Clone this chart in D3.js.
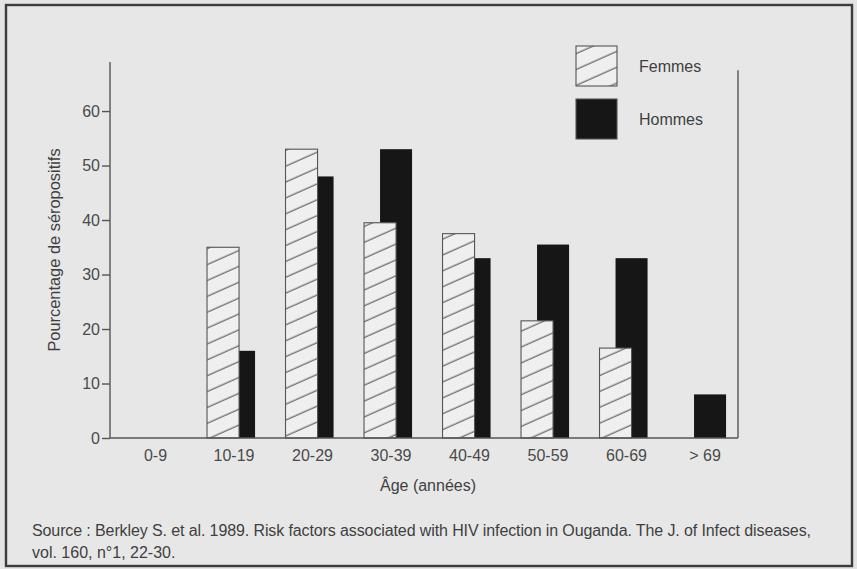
<!doctype html>
<html>
  <head>
    <meta charset="utf-8" />
    <title>Séropositivité par âge</title>
    <style>
      body { margin: 0; background: #e4e4e4; }
      svg { display: block; }
      text { font-family: "Liberation Sans", Arial, Helvetica, sans-serif; fill: #3f3f3f; }
      .axis path, .axis line { stroke: #555; stroke-width: 1.4px; }
      .axis text { font-size: 16px; fill: #4a4a4a; }
    </style>
  </head>
  <body>
    <div id="chart"></div>
    <script src="https://cdn.jsdelivr.net/npm/d3@7"></script>
    <script>
      var categories = ["0-9", "10-19", "20-29", "30-39", "40-49", "50-59", "60-69", "> 69"];
      var femmes = [0, 35, 53, 39.5, 37.5, 21.5, 16.5, 0];
      var hommes = [0, 16, 48, 53, 33, 35.5, 33, 8];
      var yTicks = [0, 10, 20, 30, 40, 50, 60];
      var seriesNames = ["Femmes", "Hommes"];
      var sourceLines = [
        "Source : Berkley S. et al. 1989. Risk factors associated with HIV infection in Ouganda. The J. of Infect diseases,",
        "vol. 160, n\u00b01, 22-30."
      ];

      var width = 857, height = 569;

      var svg = d3.select("#chart").append("svg")
                  .attr("width", width)
                  .attr("height", height);

      // hatch used for the women's bars
      var defs = svg.append("defs");
      defs.append("pattern")
          .attr("id", "hatch")
          .attr("patternUnits", "userSpaceOnUse")
          .attr("width", 10)
          .attr("height", 14.5)
          .attr("patternTransform", "rotate(-24)")
        .call(function(p) {
          p.append("rect").attr("width", 10).attr("height", 14.5).attr("fill", "#efefef");
          p.append("line")
           .attr("x1", 0).attr("x2", 10).attr("y1", 7).attr("y2", 7)
           .attr("stroke", "#555").attr("stroke-width", 1.1);
        });

      // frame
      svg.append("rect")
         .attr("x", 6).attr("y", 5)
         .attr("width", 846).attr("height", 561)
         .attr("fill", "#e7e7e7")
         .attr("stroke", "#3c3c3c")
         .attr("stroke-width", 2.4);

      var x = d3.scaleBand()
                .domain(categories)
                .range([110, 738])
                .padding(0);

      var y = d3.scaleLinear()
                .domain([0, 69])
                .range([438, 62]);

      var barW = x.bandwidth() * 0.408;
      var offset = { Femmes: x.bandwidth() * 0.236, Hommes: x.bandwidth() * 0.236 + barW / 2 };

      var g = svg.append("g");

      // men first, women drawn over them
      g.selectAll(".bar-h")
       .data(categories.map(function(c, i) { return { cat: c, v: hommes[i] }; }))
       .enter().append("rect")
       .attr("class", "bar-h")
       .attr("x", function(d) { return x(d.cat) + offset.Hommes; })
       .attr("y", function(d) { return y(d.v); })
       .attr("width", barW)
       .attr("height", function(d) { return y(0) - y(d.v); })
       .attr("fill", "#161616");

      g.selectAll(".bar-f")
       .data(categories.map(function(c, i) { return { cat: c, v: femmes[i] }; }).filter(function(d) { return d.v > 0; }))
       .enter().append("rect")
       .attr("class", "bar-f")
       .attr("x", function(d) { return x(d.cat) + offset.Femmes; })
       .attr("y", function(d) { return y(d.v); })
       .attr("width", barW)
       .attr("height", function(d) { return y(0) - y(d.v); })
       .attr("fill", "url(#hatch)")
       .attr("stroke", "#555")
       .attr("stroke-width", 1.1);

      // y axis
      var yAxis = svg.append("g")
         .attr("class", "axis")
         .attr("transform", "translate(110,0)")
         .call(d3.axisLeft(y).tickValues(yTicks).tickSize(8).tickPadding(2).tickSizeOuter(0));
      yAxis.select(".domain").remove();
      yAxis.append("line")
           .attr("x1", 0).attr("x2", 0)
           .attr("y1", y(0)).attr("y2", y(69));

      // x axis: baseline and labels only
      var xAxis = svg.append("g")
         .attr("class", "axis")
         .attr("transform", "translate(0," + y(0) + ")");
      xAxis.append("line")
           .attr("x1", x.range()[0]).attr("x2", x.range()[1])
           .attr("y1", 0).attr("y2", 0);
      xAxis.selectAll(".xlab")
           .data(categories)
           .enter().append("text")
           .attr("class", "xlab")
           .attr("x", function(d) { return x(d) + x.bandwidth() * 0.58; })
           .attr("y", 23)
           .attr("text-anchor", "middle")
           .text(function(d) { return d; });

      // right side rule
      svg.append("line")
         .attr("x1", x.range()[1]).attr("x2", x.range()[1])
         .attr("y1", y(0)).attr("y2", y(67.5))
         .attr("stroke", "#555").attr("stroke-width", 1.4);

      // axis titles
      svg.append("text")
         .attr("transform", "translate(60,250) rotate(-90)")
         .attr("text-anchor", "middle")
         .style("font-size", "16.4px")
         .text("Pourcentage de séropositifs");

      svg.append("text")
         .attr("x", 428).attr("y", 491)
         .attr("text-anchor", "middle")
         .style("font-size", "16px")
         .text("Âge (années)");

      // legend
      var legend = svg.append("g").attr("transform", "translate(576,46)");
      seriesNames.forEach(function(name, i) {
        var row = legend.append("g").attr("transform", "translate(0," + (i * 53) + ")");
        row.append("rect")
           .attr("width", 41).attr("height", 40)
           .attr("fill", name === "Femmes" ? "url(#hatch)" : "#161616")
           .attr("stroke", "#555").attr("stroke-width", 1.1);
        row.append("text")
           .attr("x", 63).attr("y", 26)
           .style("font-size", "16px")
           .text(name);
      });

      // source note
      svg.selectAll(".source")
         .data(sourceLines)
         .enter().append("text")
         .attr("class", "source")
         .attr("x", 32)
         .attr("y", function(d, i) { return 536 + i * 22; })
         .style("font-size", "16px")
         .attr("textLength", function(d, i) { return i === 0 ? 779 : null; })
         .attr("lengthAdjust", "spacing")
         .text(function(d) { return d; });
    </script>
  </body>
</html>
